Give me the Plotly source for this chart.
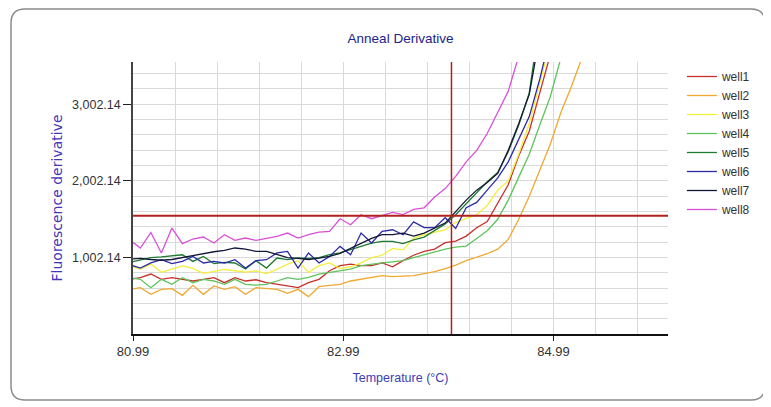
import plotly.graph_objects as go

# ---------------- data ----------------
temperatures = [80.96, 81.06, 81.16, 81.26, 81.36, 81.46, 81.56, 81.66, 81.76, 81.86,
                81.96, 82.06, 82.16, 82.26, 82.36, 82.46, 82.56, 82.66, 82.76, 82.86,
                82.96, 83.06, 83.16, 83.26, 83.36, 83.46, 83.56, 83.66, 83.76, 83.86,
                83.96, 84.06, 84.16, 84.26, 84.36, 84.46, 84.56, 84.66, 84.76, 84.86,
                84.96, 85.06, 85.16, 85.26]

well_names = ["well1", "well2", "well3", "well4", "well5", "well6", "well7", "well8"]

well1 = [716, 738, 785, 716, 738, 716, 694, 716, 738, 672,
         738, 694, 710, 672, 655, 630, 607, 672, 716, 828,
         894, 915, 894, 894, 930, 880, 960, 1030, 1080, 1110,
         1195, 1215, 1280, 1390, 1470, 1720, 1950, 2330, 2650, 3150, 3650]
well2 = [585, 607, 520, 585, 594, 507, 637, 520, 629, 585,
         620, 520, 607, 594, 585, 533, 585, 490, 620, 637,
         650, 694, 716, 740, 763, 750, 755, 763, 790, 815,
         857, 900, 960, 1000, 1050, 1110, 1237, 1500, 1800, 2140,
         2480, 2890, 3230, 3600]
well3 = [885, 850, 915, 807, 850, 890, 860, 795, 820, 845,
         828, 810, 825, 790, 845, 915, 959, 807, 894, 930,
         855, 880, 930, 1000, 1030, 1120, 1100, 1255, 1300, 1330,
         1360, 1460, 1510, 1560, 1680, 1880, 2000, 2350, 2750, 3250, 3800]
well4 = [738, 716, 607, 716, 650, 738, 672, 716, 694, 650,
         716, 650, 640, 650, 694, 738, 716, 740, 785, 810,
         835, 850, 894, 915, 930, 945, 960, 1000, 1040, 1075,
         1110, 1135, 1150, 1250, 1350, 1500, 1750, 2050, 2350, 2730, 3100, 3600]
well5 = [937, 970, 1000, 1010, 1025, 1037, 950, 1015, 920, 937,
         929, 850, 960, 863, 994, 972, 994, 990, 1000, 1037,
         1060, 1100, 1140, 1190, 1211, 1211, 1181, 1230, 1268, 1350,
         1440, 1560, 1705, 1840, 1990, 2110, 2380, 2730, 3150, 4100]
well6 = [907, 863, 930, 972, 920, 950, 1015, 929, 950, 929,
         972, 863, 960, 972, 1060, 1081, 863, 1060, 929, 1015,
         1146, 1037, 1320, 1190, 1342, 1363, 1298, 1466, 1390, 1390,
         1520, 1380, 1650, 1720, 1880, 2040, 2250, 2550, 2840, 3330, 3900]
well7 = [981, 990, 975, 965, 975, 1000, 1025, 1055, 1076, 1095,
         1125, 1110, 1081, 1081, 1040, 1000, 990, 975, 994, 1015,
         1055, 1120, 1180, 1250, 1300, 1300, 1320, 1280, 1320, 1380,
         1450, 1600, 1750, 1880, 1980, 2100, 2400, 2750, 3130, 3900]
well8 = [1230, 1125, 1328, 1060, 1385, 1181, 1242, 1268, 1190, 1298,
         1224, 1255, 1224, 1246, 1276, 1320, 1255, 1298, 1333, 1342,
         1507, 1428, 1559, 1507, 1546, 1589, 1560, 1630, 1650, 1790,
         1900, 2060, 2250, 2400, 2620, 2900, 3170, 3630]

well_values = [well1, well2, well3, well4, well5, well6, well7, well8]

threshold_value = 1545      # horizontal red line
cursor_temperature = 84.02  # vertical red line

x_tick_vals = [80.99, 82.99, 84.99]
x_tick_text = ["80.99", "82.99", "84.99"]
y_tick_vals = [1002.14, 2002.14, 3002.14]
y_tick_text = ["1,002.14", "2,002.14", "3,002.14"]

x_range = [80.99, 86.08]
y_range = [2.14, 3553]

# ---------------- style ----------------
colors = ["#c8302c", "#f0a830", "#f4ee3c", "#5ec45e", "#1f7a32", "#2b2ba8", "#141838", "#d850d8"]
FONT = "Liberation Sans, Arial, sans-serif"
GRID = "#d9d9d9"

fig = go.Figure()
for name, vals, col in zip(well_names, well_values, colors):
    fig.add_trace(go.Scatter(
        x=temperatures[:len(vals)], y=vals, mode="lines", name=name,
        line=dict(color=col, width=1.3),
    ))

# figure is placed 8px in from the page corner by the default body margin
W, H = 763, 399
ML, MR, MT, MB = 125, 103, 54, 73
PW, PH = W - ML - MR, H - MT - MB


def px(xp):
    return (xp - ML) / PW


def py(yp):
    return (H - MB - yp) / PH


L, R, T, B, r = 3, 757, 1, 392, 14
frame = (f"M{px(L + r)},{py(T)} L{px(R - r)},{py(T)} Q{px(R)},{py(T)} {px(R)},{py(T + r)} "
         f"L{px(R)},{py(B - r)} Q{px(R)},{py(B)} {px(R - r)},{py(B)} "
         f"L{px(L + r)},{py(B)} Q{px(L)},{py(B)} {px(L)},{py(B - r)} "
         f"L{px(L)},{py(T + r)} Q{px(L)},{py(T)} {px(L + r)},{py(T)} Z")

fig.update_layout(
    width=W, height=H,
    margin=dict(l=ML, r=MR, t=MT, b=MB),
    paper_bgcolor="white", plot_bgcolor="white",
    title=dict(text="Anneal Derivative", x=0.5, xref="paper", xanchor="center",
               y=1 - 30 / H, yanchor="middle",
               font=dict(family=FONT, size=13.5, color="#22228a")),
    xaxis=dict(
        range=x_range, tickmode="array", tickvals=x_tick_vals, ticktext=x_tick_text,
        ticks="outside", ticklen=5, tickcolor="#222", tickwidth=1,
        showline=True, linecolor="#111", linewidth=1.5,
        showgrid=True, gridcolor=GRID, gridwidth=1, zeroline=False,
        minor=dict(tickmode="linear", tick0=80.99, dtick=0.4, showgrid=True,
                   gridcolor=GRID, gridwidth=1, ticks=""),
        tickfont=dict(family=FONT, size=13, color="#333"),
        title=dict(text="Temperature (°C)", standoff=15,
                   font=dict(family=FONT, size=12.5, color="#3c3cb4")),
    ),
    yaxis=dict(
        range=y_range, tickmode="array", tickvals=y_tick_vals, ticktext=y_tick_text,
        ticks="outside", ticklen=8, tickcolor="#222", tickwidth=1,
        showline=True, linecolor="#444", linewidth=1.5,
        showgrid=True, gridcolor=GRID, gridwidth=1, zeroline=False,
        minor=dict(tickmode="linear", tick0=2.14, dtick=200, showgrid=True,
                   gridcolor=GRID, gridwidth=1, ticks=""),
        tickfont=dict(family=FONT, size=12.5, color="#333"),
        title=dict(text="Fluorescence derivative", standoff=6,
                   font=dict(family="DejaVu Sans, sans-serif", size=14, color="#4434b8")),
    ),
    legend=dict(x=1.026, xanchor="left", y=1.0, yanchor="top",
                font=dict(family=FONT, size=12, color="#333"),
                bgcolor="rgba(0,0,0,0)", tracegroupgap=0),
    showlegend=True,
    shapes=[
        dict(type="line", xref="paper", yref="y", x0=0, x1=1,
             y0=threshold_value, y1=threshold_value,
             line=dict(color="#b0201c", width=2), layer="above"),
        dict(type="line", xref="x", yref="paper", x0=cursor_temperature, x1=cursor_temperature,
             y0=0, y1=1, line=dict(color="#b0201c", width=1.5), layer="above"),
        dict(type="path", xref="paper", yref="paper", path=frame,
             line=dict(color="#8c8c8c", width=1.5), fillcolor="rgba(0,0,0,0)", layer="below"),
    ],
)

fig.write_html("out.html")
